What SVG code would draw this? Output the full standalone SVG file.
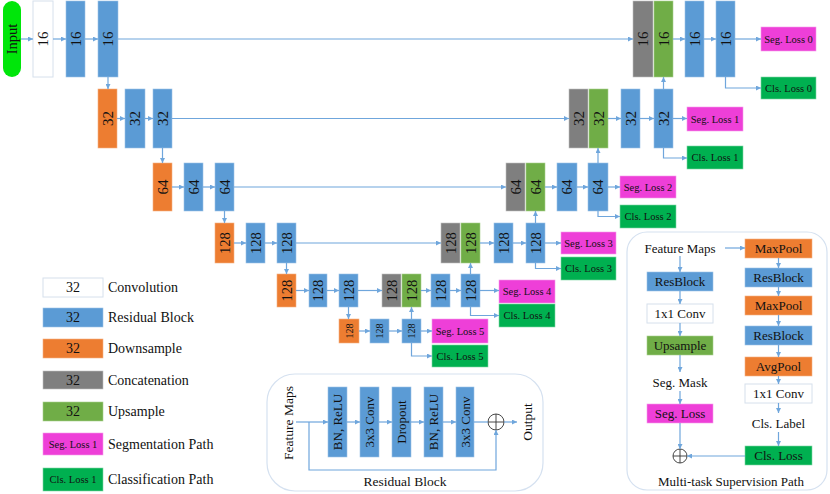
<svg xmlns="http://www.w3.org/2000/svg" width="830" height="494" viewBox="0 0 830 494">
<style>
text{font-family:"Liberation Serif","Times New Roman",serif;fill:#111}
.rb{fill:#5B9BD5;stroke:#9DC3E6;stroke-width:0.6}
.ds{fill:#ED7D31;stroke:#F4B183;stroke-width:0.6}
.cc{fill:#7F7F7F;stroke:#BFBFBF;stroke-width:0.6}
.up{fill:#70AD47;stroke:#A9D18E;stroke-width:0.6}
.cv{fill:#FFFFFF;stroke:#D6E0EC;stroke-width:1}
.sl{fill:#EE3FD8;stroke:#F59BEA;stroke-width:0.6}
.cl{fill:#00B050;stroke:#7FD6A6;stroke-width:0.6}
.in{fill:#00E60A}
.n15{font-size:15px}
.n14{font-size:14.5px}
.n10{font-size:10px}
.ls{font-size:10.5px}
.lg{font-size:14px}
.t13{font-size:13px}
.conn path,.conn line{fill:none;stroke:#6FA6DC;stroke-width:1.2}
.panel{fill:#fff;stroke:#D5E1F0;stroke-width:1.2}
.plus{fill:#fff;stroke:#333;stroke-width:0.9}
</style>
<defs>
<marker id="ah" viewBox="0 0 8 8" refX="8" refY="4" markerWidth="5" markerHeight="5" orient="auto" markerUnits="userSpaceOnUse">
<path d="M0,0 L8,4 L0,8 z" fill="#6FA6DC"/>
</marker>
</defs>

<!-- Row 0 -->
<g id="input"><rect class="in" x="3" y="1" width="18" height="76" rx="9"/><text class="n14" transform="translate(12,39) rotate(-90)" text-anchor="middle" dy="0.35em">Input</text></g>
<g id="c0"><rect class="cv" x="33" y="1" width="20" height="76"/><text class="n15" transform="translate(43,39) rotate(-90)" text-anchor="middle" dy="0.35em">16</text></g>
<g id="r0a"><rect class="rb" x="66" y="1" width="19" height="76"/><text class="n15" transform="translate(75.5,39) rotate(-90)" text-anchor="middle" dy="0.35em">16</text></g>
<g id="r0b"><rect class="rb" x="98" y="1" width="20" height="76"/><text class="n15" transform="translate(108,39) rotate(-90)" text-anchor="middle" dy="0.35em">16</text></g>
<g id="cat0"><rect class="cc" x="633" y="1" width="20" height="76"/><text class="n15" transform="translate(643,39) rotate(-90)" text-anchor="middle" dy="0.35em">16</text></g>
<g id="up0"><rect class="up" x="654" y="1" width="19" height="76"/><text class="n15" transform="translate(663.5,39) rotate(-90)" text-anchor="middle" dy="0.35em">16</text></g>
<g id="r0c"><rect class="rb" x="685" y="1" width="19" height="76"/><text class="n15" transform="translate(694.5,39) rotate(-90)" text-anchor="middle" dy="0.35em">16</text></g>
<g id="r0d"><rect class="rb" x="716" y="1" width="19" height="76"/><text class="n15" transform="translate(725.5,39) rotate(-90)" text-anchor="middle" dy="0.35em">16</text></g>
<g id="seg0"><rect class="sl" x="761" y="27" width="55" height="24"/><text class="ls" x="788.5" y="39" text-anchor="middle" dy="0.35em">Seg. Loss 0</text></g>
<g id="cls0"><rect class="cl" x="761" y="77" width="55" height="22"/><text class="ls" x="788.5" y="88" text-anchor="middle" dy="0.35em">Cls. Loss 0</text></g>

<!-- Row 1 -->
<g id="d1"><rect class="ds" x="98" y="89" width="19" height="59"/><text class="n15" transform="translate(107.5,118.5) rotate(-90)" text-anchor="middle" dy="0.35em">32</text></g>
<g id="r1a"><rect class="rb" x="125" y="89" width="20" height="59"/><text class="n15" transform="translate(135,118.5) rotate(-90)" text-anchor="middle" dy="0.35em">32</text></g>
<g id="r1b"><rect class="rb" x="153" y="89" width="19" height="59"/><text class="n15" transform="translate(162.5,118.5) rotate(-90)" text-anchor="middle" dy="0.35em">32</text></g>
<g id="cat1"><rect class="cc" x="569" y="89" width="19" height="59"/><text class="n15" transform="translate(578.5,118.5) rotate(-90)" text-anchor="middle" dy="0.35em">32</text></g>
<g id="up1"><rect class="up" x="589" y="89" width="19" height="59"/><text class="n15" transform="translate(598.5,118.5) rotate(-90)" text-anchor="middle" dy="0.35em">32</text></g>
<g id="r1c"><rect class="rb" x="621" y="89" width="19" height="59"/><text class="n15" transform="translate(630.5,118.5) rotate(-90)" text-anchor="middle" dy="0.35em">32</text></g>
<g id="r1d"><rect class="rb" x="654" y="89" width="19" height="59"/><text class="n15" transform="translate(663.5,118.5) rotate(-90)" text-anchor="middle" dy="0.35em">32</text></g>
<g id="seg1"><rect class="sl" x="687" y="107" width="56" height="24"/><text class="ls" x="715" y="119" text-anchor="middle" dy="0.35em">Seg. Loss 1</text></g>
<g id="cls1"><rect class="cl" x="687" y="146" width="56" height="23"/><text class="ls" x="715" y="157.5" text-anchor="middle" dy="0.35em">Cls. Loss 1</text></g>

<!-- Row 2 -->
<g id="d2"><rect class="ds" x="153" y="163" width="19" height="48"/><text class="n15" transform="translate(162.5,187) rotate(-90)" text-anchor="middle" dy="0.35em">64</text></g>
<g id="r2a"><rect class="rb" x="184" y="163" width="19" height="48"/><text class="n15" transform="translate(193.5,187) rotate(-90)" text-anchor="middle" dy="0.35em">64</text></g>
<g id="r2b"><rect class="rb" x="215" y="163" width="19" height="48"/><text class="n15" transform="translate(224.5,187) rotate(-90)" text-anchor="middle" dy="0.35em">64</text></g>
<g id="cat2"><rect class="cc" x="506" y="163" width="19" height="48"/><text class="n15" transform="translate(515.5,187) rotate(-90)" text-anchor="middle" dy="0.35em">64</text></g>
<g id="up2"><rect class="up" x="526" y="163" width="19" height="48"/><text class="n15" transform="translate(535.5,187) rotate(-90)" text-anchor="middle" dy="0.35em">64</text></g>
<g id="r2c"><rect class="rb" x="557" y="163" width="20" height="48"/><text class="n15" transform="translate(567,187) rotate(-90)" text-anchor="middle" dy="0.35em">64</text></g>
<g id="r2d"><rect class="rb" x="588" y="163" width="20" height="48"/><text class="n15" transform="translate(598,187) rotate(-90)" text-anchor="middle" dy="0.35em">64</text></g>
<g id="seg2"><rect class="sl" x="620" y="176" width="56" height="22"/><text class="ls" x="648" y="187" text-anchor="middle" dy="0.35em">Seg. Loss 2</text></g>
<g id="cls2"><rect class="cl" x="620" y="205" width="56" height="23"/><text class="ls" x="648" y="216.5" text-anchor="middle" dy="0.35em">Cls. Loss 2</text></g>

<!-- Row 3 -->
<g id="d3"><rect class="ds" x="215" y="223" width="19" height="40"/><text class="n14" transform="translate(224.5,243) rotate(-90)" text-anchor="middle" dy="0.35em">128</text></g>
<g id="r3a"><rect class="rb" x="246" y="223" width="19" height="40"/><text class="n14" transform="translate(255.5,243) rotate(-90)" text-anchor="middle" dy="0.35em">128</text></g>
<g id="r3b"><rect class="rb" x="277" y="223" width="19" height="40"/><text class="n14" transform="translate(286.5,243) rotate(-90)" text-anchor="middle" dy="0.35em">128</text></g>
<g id="cat3"><rect class="cc" x="441" y="223" width="19" height="40"/><text class="n14" transform="translate(450.5,243) rotate(-90)" text-anchor="middle" dy="0.35em">128</text></g>
<g id="up3"><rect class="up" x="461" y="223" width="19" height="40"/><text class="n14" transform="translate(470.5,243) rotate(-90)" text-anchor="middle" dy="0.35em">128</text></g>
<g id="r3c"><rect class="rb" x="494" y="223" width="19" height="40"/><text class="n14" transform="translate(503.5,243) rotate(-90)" text-anchor="middle" dy="0.35em">128</text></g>
<g id="r3d"><rect class="rb" x="526" y="223" width="19" height="40"/><text class="n14" transform="translate(535.5,243) rotate(-90)" text-anchor="middle" dy="0.35em">128</text></g>
<g id="seg3"><rect class="sl" x="561" y="232" width="55" height="22"/><text class="ls" x="588.5" y="243" text-anchor="middle" dy="0.35em">Seg. Loss 3</text></g>
<g id="cls3"><rect class="cl" x="561" y="257" width="55" height="23"/><text class="ls" x="588.5" y="268.5" text-anchor="middle" dy="0.35em">Cls. Loss 3</text></g>

<!-- Row 4 -->
<g id="d4"><rect class="ds" x="277" y="274" width="19" height="33"/><text class="n14" transform="translate(286.5,290.5) rotate(-90)" text-anchor="middle" dy="0.35em">128</text></g>
<g id="r4a"><rect class="rb" x="309" y="274" width="18" height="33"/><text class="n14" transform="translate(318,290.5) rotate(-90)" text-anchor="middle" dy="0.35em">128</text></g>
<g id="r4b"><rect class="rb" x="339" y="274" width="19" height="33"/><text class="n14" transform="translate(348.5,290.5) rotate(-90)" text-anchor="middle" dy="0.35em">128</text></g>
<g id="cat4"><rect class="cc" x="382" y="274" width="19" height="33"/><text class="n14" transform="translate(391.5,290.5) rotate(-90)" text-anchor="middle" dy="0.35em">128</text></g>
<g id="up4"><rect class="up" x="402" y="274" width="19" height="33"/><text class="n14" transform="translate(411.5,290.5) rotate(-90)" text-anchor="middle" dy="0.35em">128</text></g>
<g id="r4c"><rect class="rb" x="431" y="274" width="19" height="33"/><text class="n14" transform="translate(440.5,290.5) rotate(-90)" text-anchor="middle" dy="0.35em">128</text></g>
<g id="r4d"><rect class="rb" x="461" y="274" width="19" height="33"/><text class="n14" transform="translate(470.5,290.5) rotate(-90)" text-anchor="middle" dy="0.35em">128</text></g>
<g id="seg4"><rect class="sl" x="499" y="280" width="56" height="23"/><text class="ls" x="527" y="291.5" text-anchor="middle" dy="0.35em">Seg. Loss 4</text></g>
<g id="cls4"><rect class="cl" x="499" y="304" width="56" height="23"/><text class="ls" x="527" y="315.5" text-anchor="middle" dy="0.35em">Cls. Loss 4</text></g>

<!-- Row 5 -->
<g id="d5"><rect class="ds" x="339" y="319" width="20" height="24"/><text class="n10" transform="translate(349,331) rotate(-90)" text-anchor="middle" dy="0.35em">128</text></g>
<g id="r5a"><rect class="rb" x="370" y="319" width="19" height="24"/><text class="n10" transform="translate(379.5,331) rotate(-90)" text-anchor="middle" dy="0.35em">128</text></g>
<g id="r5b"><rect class="rb" x="402" y="319" width="19" height="24"/><text class="n10" transform="translate(411.5,331) rotate(-90)" text-anchor="middle" dy="0.35em">128</text></g>
<g id="seg5"><rect class="sl" x="432" y="319" width="56" height="24"/><text class="ls" x="460" y="331" text-anchor="middle" dy="0.35em">Seg. Loss 5</text></g>
<g id="cls5"><rect class="cl" x="432" y="345" width="56" height="22"/><text class="ls" x="460" y="356" text-anchor="middle" dy="0.35em">Cls. Loss 5</text></g>

<!-- Legend -->
<g id="leg-conv"><rect class="cv" x="43" y="278" width="60" height="19"/><text class="lg" x="73" y="287.5" text-anchor="middle" dy="0.35em">32</text><text class="lg" x="108" y="287.5" dy="0.35em">Convolution</text></g>
<g id="leg-res"><rect class="rb" x="43" y="308" width="60" height="19"/><text class="lg" x="73" y="317.5" text-anchor="middle" dy="0.35em">32</text><text class="lg" x="108" y="317.5" dy="0.35em">Residual Block</text></g>
<g id="leg-down"><rect class="ds" x="43" y="339" width="60" height="19"/><text class="lg" x="73" y="348.5" text-anchor="middle" dy="0.35em">32</text><text class="lg" x="108" y="348.5" dy="0.35em">Downsample</text></g>
<g id="leg-cat"><rect class="cc" x="43" y="371" width="60" height="18"/><text class="lg" x="73" y="380" text-anchor="middle" dy="0.35em">32</text><text class="lg" x="108" y="380" dy="0.35em">Concatenation</text></g>
<g id="leg-up"><rect class="up" x="43" y="402" width="60" height="19"/><text class="lg" x="73" y="411.5" text-anchor="middle" dy="0.35em">32</text><text class="lg" x="108" y="411.5" dy="0.35em">Upsample</text></g>
<g id="leg-seg"><rect class="sl" x="43" y="433" width="60" height="22"/><text class="ls" x="73" y="444" text-anchor="middle" dy="0.35em">Seg. Loss 1</text><text class="lg" x="108" y="444" dy="0.35em">Segmentation Path</text></g>
<g id="leg-cls"><rect class="cl" x="43" y="468" width="60" height="23"/><text class="ls" x="73" y="479.5" text-anchor="middle" dy="0.35em">Cls. Loss 1</text><text class="lg" x="108" y="479.5" dy="0.35em">Classification Path</text></g>

<!-- Residual Block panel -->
<g id="residual-panel">
<rect class="panel" x="267" y="374" width="276" height="117" rx="28"/>
<text class="t13" transform="translate(288,423) rotate(-90)" text-anchor="middle" dy="0.35em" style="font-size:13.5px">Feature Maps</text>
<text class="t13" transform="translate(527,422) rotate(-90)" text-anchor="middle" dy="0.35em" style="font-size:13.5px">Output</text>
<text class="t13" x="405" y="481" text-anchor="middle" dy="0.35em" style="font-size:13.5px">Residual Block</text>
</g>
<g id="rp-bn1"><rect class="rb" x="328" y="387" width="19" height="70"/><text class="t13" transform="translate(337.5,422) rotate(-90)" text-anchor="middle" dy="0.35em">BN, ReLU</text></g>
<g id="rp-conv1"><rect class="rb" x="360" y="387" width="19" height="70"/><text class="t13" transform="translate(369.5,422) rotate(-90)" text-anchor="middle" dy="0.35em">3x3 Conv</text></g>
<g id="rp-drop"><rect class="rb" x="392" y="387" width="19" height="70"/><text class="t13" transform="translate(401.5,422) rotate(-90)" text-anchor="middle" dy="0.35em">Dropout</text></g>
<g id="rp-bn2"><rect class="rb" x="424" y="387" width="19" height="70"/><text class="t13" transform="translate(433.5,422) rotate(-90)" text-anchor="middle" dy="0.35em">BN, ReLU</text></g>
<g id="rp-conv2"><rect class="rb" x="456" y="387" width="18" height="70"/><text class="t13" transform="translate(465,422) rotate(-90)" text-anchor="middle" dy="0.35em">3x3 Conv</text></g>
<g id="rp-sum"><circle class="plus" cx="496" cy="422" r="8"/><path d="M488,422 H504 M496,414 V430" stroke="#333" stroke-width="0.9"/></g>

<!-- Multi-task panel -->
<g id="mt-panel">
<rect class="panel" x="627" y="232" width="200" height="258" rx="20"/>
<text class="t13" x="680" y="248" text-anchor="middle" dy="0.35em">Feature Maps</text>
<text class="t13" x="680" y="382" text-anchor="middle" dy="0.35em">Seg. Mask</text>
<text class="t13" x="778.5" y="423" text-anchor="middle" dy="0.35em">Cls. Label</text>
<text class="t13" x="731" y="481" text-anchor="middle" dy="0.35em">Multi-task Supervision Path</text>
</g>
<g id="mt-res"><rect class="rb" x="647" y="272" width="66" height="19"/><text class="t13" x="680" y="281.5" text-anchor="middle" dy="0.35em">ResBlock</text></g>
<g id="mt-conv"><rect class="cv" x="647" y="304" width="66" height="19"/><text class="t13" x="680" y="313.5" text-anchor="middle" dy="0.35em">1x1 Conv</text></g>
<g id="mt-up"><rect class="up" x="647" y="336" width="66" height="19"/><text class="t13" x="680" y="345.5" text-anchor="middle" dy="0.35em">Upsample</text></g>
<g id="mt-seg"><rect class="sl" x="647" y="404" width="66" height="19"/><text class="t13" x="680" y="413.5" text-anchor="middle" dy="0.35em">Seg. Loss</text></g>
<g id="mt-sum"><circle class="plus" cx="680" cy="456" r="7"/><path d="M673,456 H687 M680,449 V463" stroke="#333" stroke-width="0.9"/></g>
<g id="mt-mp1"><rect class="ds" x="745" y="239" width="67" height="19"/><text class="t13" x="778.5" y="248.5" text-anchor="middle" dy="0.35em">MaxPool</text></g>
<g id="mt-rb1"><rect class="rb" x="745" y="268" width="67" height="19"/><text class="t13" x="778.5" y="277.5" text-anchor="middle" dy="0.35em">ResBlock</text></g>
<g id="mt-mp2"><rect class="ds" x="745" y="296" width="67" height="19"/><text class="t13" x="778.5" y="305.5" text-anchor="middle" dy="0.35em">MaxPool</text></g>
<g id="mt-rb2"><rect class="rb" x="745" y="326" width="67" height="19"/><text class="t13" x="778.5" y="335.5" text-anchor="middle" dy="0.35em">ResBlock</text></g>
<g id="mt-avg"><rect class="ds" x="745" y="357" width="67" height="19"/><text class="t13" x="778.5" y="366.5" text-anchor="middle" dy="0.35em">AvgPool</text></g>
<g id="mt-conv2"><rect class="cv" x="745" y="384" width="67" height="19"/><text class="t13" x="778.5" y="393.5" text-anchor="middle" dy="0.35em">1x1 Conv</text></g>
<g id="mt-cls"><rect class="cl" x="745" y="446" width="67" height="19"/><text class="t13" x="778.5" y="455.5" text-anchor="middle" dy="0.35em">Cls. Loss</text></g>

<!-- Connectors -->
<g id="connectors" class="conn">
<!-- row 0 -->
<path d="M21,39 H33" marker-end="url(#ah)"/>
<path d="M53,39 H66" marker-end="url(#ah)"/>
<path d="M85,39 H98" marker-end="url(#ah)"/>
<path d="M118,39 H633" marker-end="url(#ah)"/>
<path d="M673,39 H685" marker-end="url(#ah)"/>
<path d="M704,39 H716" marker-end="url(#ah)"/>
<path d="M735,39 H761" marker-end="url(#ah)"/>
<!-- row 1 -->
<path d="M117,118.5 H125" marker-end="url(#ah)"/>
<path d="M145,118.5 H153" marker-end="url(#ah)"/>
<path d="M172,118.5 H569" marker-end="url(#ah)"/>
<path d="M608,118.5 H621" marker-end="url(#ah)"/>
<path d="M640,118.5 H654" marker-end="url(#ah)"/>
<path d="M673,118.5 H687" marker-end="url(#ah)"/>
<!-- row 2 -->
<path d="M172,187 H184" marker-end="url(#ah)"/>
<path d="M203,187 H215" marker-end="url(#ah)"/>
<path d="M234,187 H506" marker-end="url(#ah)"/>
<path d="M545,187 H557" marker-end="url(#ah)"/>
<path d="M577,187 H588" marker-end="url(#ah)"/>
<path d="M608,187 H620" marker-end="url(#ah)"/>
<!-- row 3 -->
<path d="M234,243 H246" marker-end="url(#ah)"/>
<path d="M265,243 H277" marker-end="url(#ah)"/>
<path d="M296,243 H441" marker-end="url(#ah)"/>
<path d="M480,243 H494" marker-end="url(#ah)"/>
<path d="M513,243 H526" marker-end="url(#ah)"/>
<path d="M545,243 H561" marker-end="url(#ah)"/>
<!-- row 4 -->
<path d="M296,290.5 H309" marker-end="url(#ah)"/>
<path d="M327,290.5 H339" marker-end="url(#ah)"/>
<path d="M358,290.5 H382" marker-end="url(#ah)"/>
<path d="M421,290.5 H431" marker-end="url(#ah)"/>
<path d="M450,290.5 H461" marker-end="url(#ah)"/>
<path d="M480,290.5 H499" marker-end="url(#ah)"/>
<!-- row 5 -->
<path d="M359,331 H370" marker-end="url(#ah)"/>
<path d="M389,331 H402" marker-end="url(#ah)"/>
<path d="M421,331 H432" marker-end="url(#ah)"/>
<!-- down -->
<path d="M108,77 V89" marker-end="url(#ah)"/>
<path d="M162.5,148 V163" marker-end="url(#ah)"/>
<path d="M224.5,211 V223" marker-end="url(#ah)"/>
<path d="M286.5,263 V274" marker-end="url(#ah)"/>
<path d="M348.5,307 V319" marker-end="url(#ah)"/>
<!-- up -->
<path d="M663.5,89 V77" marker-end="url(#ah)"/>
<path d="M598,163 V148" marker-end="url(#ah)"/>
<path d="M535.5,223 V211" marker-end="url(#ah)"/>
<path d="M470.5,274 V263" marker-end="url(#ah)"/>
<path d="M411.5,319 V307" marker-end="url(#ah)"/>
<!-- cls -->
<path d="M725.5,77 V88 H761" marker-end="url(#ah)"/>
<path d="M663.5,148 V158 H687" marker-end="url(#ah)"/>
<path d="M598,211 V216.5 H620" marker-end="url(#ah)"/>
<path d="M535.5,263 V268.5 H561" marker-end="url(#ah)"/>
<path d="M470.5,307 V315.5 H499" marker-end="url(#ah)"/>
<path d="M411.5,343 V356 H432" marker-end="url(#ah)"/>
<!-- residual panel -->
<path d="M296,422 H328" marker-end="url(#ah)"/>
<path d="M347,422 H360" marker-end="url(#ah)"/>
<path d="M379,422 H392" marker-end="url(#ah)"/>
<path d="M411,422 H424" marker-end="url(#ah)"/>
<path d="M443,422 H456" marker-end="url(#ah)"/>
<path d="M474,422 H488"/>
<path d="M504,422 H517" marker-end="url(#ah)"/>
<path d="M309,422 V470 H496 V430" marker-end="url(#ah)"/>
<!-- multi-task -->
<path d="M725,248 H745" marker-end="url(#ah)"/>
<path d="M680,256 V272" marker-end="url(#ah)"/>
<path d="M680,291 V304" marker-end="url(#ah)"/>
<path d="M680,323 V336" marker-end="url(#ah)"/>
<path d="M680,355 V372" marker-end="url(#ah)"/>
<path d="M680,391 V404" marker-end="url(#ah)"/>
<path d="M680,423 V449" marker-end="url(#ah)"/>
<path d="M778.5,258 V268" marker-end="url(#ah)"/>
<path d="M778.5,287 V296" marker-end="url(#ah)"/>
<path d="M778.5,315 V326" marker-end="url(#ah)"/>
<path d="M778.5,345 V357" marker-end="url(#ah)"/>
<path d="M778.5,376 V384" marker-end="url(#ah)"/>
<path d="M778.5,403 V413" marker-end="url(#ah)"/>
<path d="M778.5,432 V446" marker-end="url(#ah)"/>
<path d="M745,456 H687" marker-end="url(#ah)"/>
</g>
</svg>
